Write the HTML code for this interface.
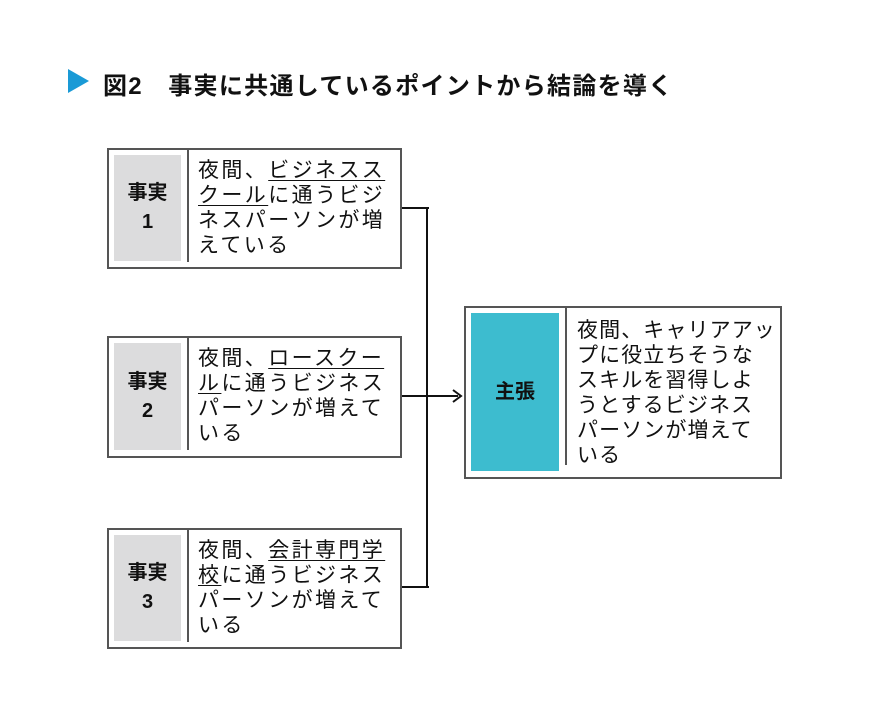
<!DOCTYPE html>
<html><head><meta charset="utf-8"><style>
body{margin:0;background:#fff;width:870px;height:721px;position:relative;overflow:hidden;font-family:"Liberation Sans","Noto Sans CJK JP",sans-serif;color:#111}
.a{position:absolute}
.box{position:absolute;border:2px solid #555;box-sizing:border-box;background:#fff}
.lab{position:absolute;background:#dcdcdd;font-weight:bold;font-size:20px;text-align:center;display:flex;align-items:center;justify-content:center;line-height:29px}
.div{position:absolute;width:2px;background:#555}
.t{position:absolute;font-size:21px;line-height:25px;letter-spacing:2.4px;white-space:nowrap}
u{text-decoration:underline;text-underline-offset:3px;text-decoration-thickness:1px}
.ln{position:absolute;background:#111}
</style></head><body>
<div class="a" style="left:68px;top:69px;width:0;height:0;border-top:12px solid transparent;border-bottom:12px solid transparent;border-left:21px solid #1a9ad6"></div>
<div class="a" style="left:103px;top:66px;font-size:24px;font-weight:bold;white-space:nowrap;letter-spacing:1.3px">図2　事実に共通しているポイントから結論を導く</div>

<div class="box" style="left:107px;top:148px;width:295px;height:121px"></div>
<div class="lab" style="left:114px;top:155px;width:67px;height:106px">事実<br>1</div>
<div class="div" style="left:187px;top:150px;height:112px"></div>
<div class="t" style="left:198px;top:158px">夜間、<u>ビジネスス</u><br><u>クール</u>に通うビジ<br>ネスパーソンが増<br>えている</div>

<div class="box" style="left:107px;top:336px;width:295px;height:122px"></div>
<div class="lab" style="left:114px;top:343px;width:67px;height:107px">事実<br>2</div>
<div class="div" style="left:187px;top:338px;height:112px"></div>
<div class="t" style="left:198px;top:346px">夜間、<u>ロースクー</u><br><u>ル</u>に通うビジネス<br>パーソンが増えて<br>いる</div>

<div class="box" style="left:107px;top:528px;width:295px;height:121px"></div>
<div class="lab" style="left:114px;top:535px;width:67px;height:106px">事実<br>3</div>
<div class="div" style="left:187px;top:530px;height:112px"></div>
<div class="t" style="left:198px;top:538px">夜間、<u>会計専門学</u><br><u>校</u>に通うビジネス<br>パーソンが増えて<br>いる</div>

<div class="ln" style="left:402px;top:207px;width:27px;height:2px"></div>
<div class="ln" style="left:402px;top:586px;width:27px;height:2px"></div>
<div class="ln" style="left:426px;top:207px;width:2px;height:381px"></div>
<div class="ln" style="left:402px;top:395px;width:56px;height:2px"></div>
<svg class="a" style="left:450px;top:388px" width="14" height="16"><path d="M3 2 L11 8 L3 14" fill="none" stroke="#111" stroke-width="2"/></svg>

<div class="box" style="left:464px;top:306px;width:318px;height:173px"></div>
<div class="lab" style="left:471px;top:313px;width:88px;height:158px;background:#3dbccf">主張</div>
<div class="div" style="left:565px;top:308px;height:157px"></div>
<div class="t" style="left:577px;top:318px;letter-spacing:1.1px">夜間、キャリアアッ<br>プに役立ちそうな<br>スキルを習得しよ<br>うとするビジネス<br>パーソンが増えて<br>いる</div>
</body></html>
